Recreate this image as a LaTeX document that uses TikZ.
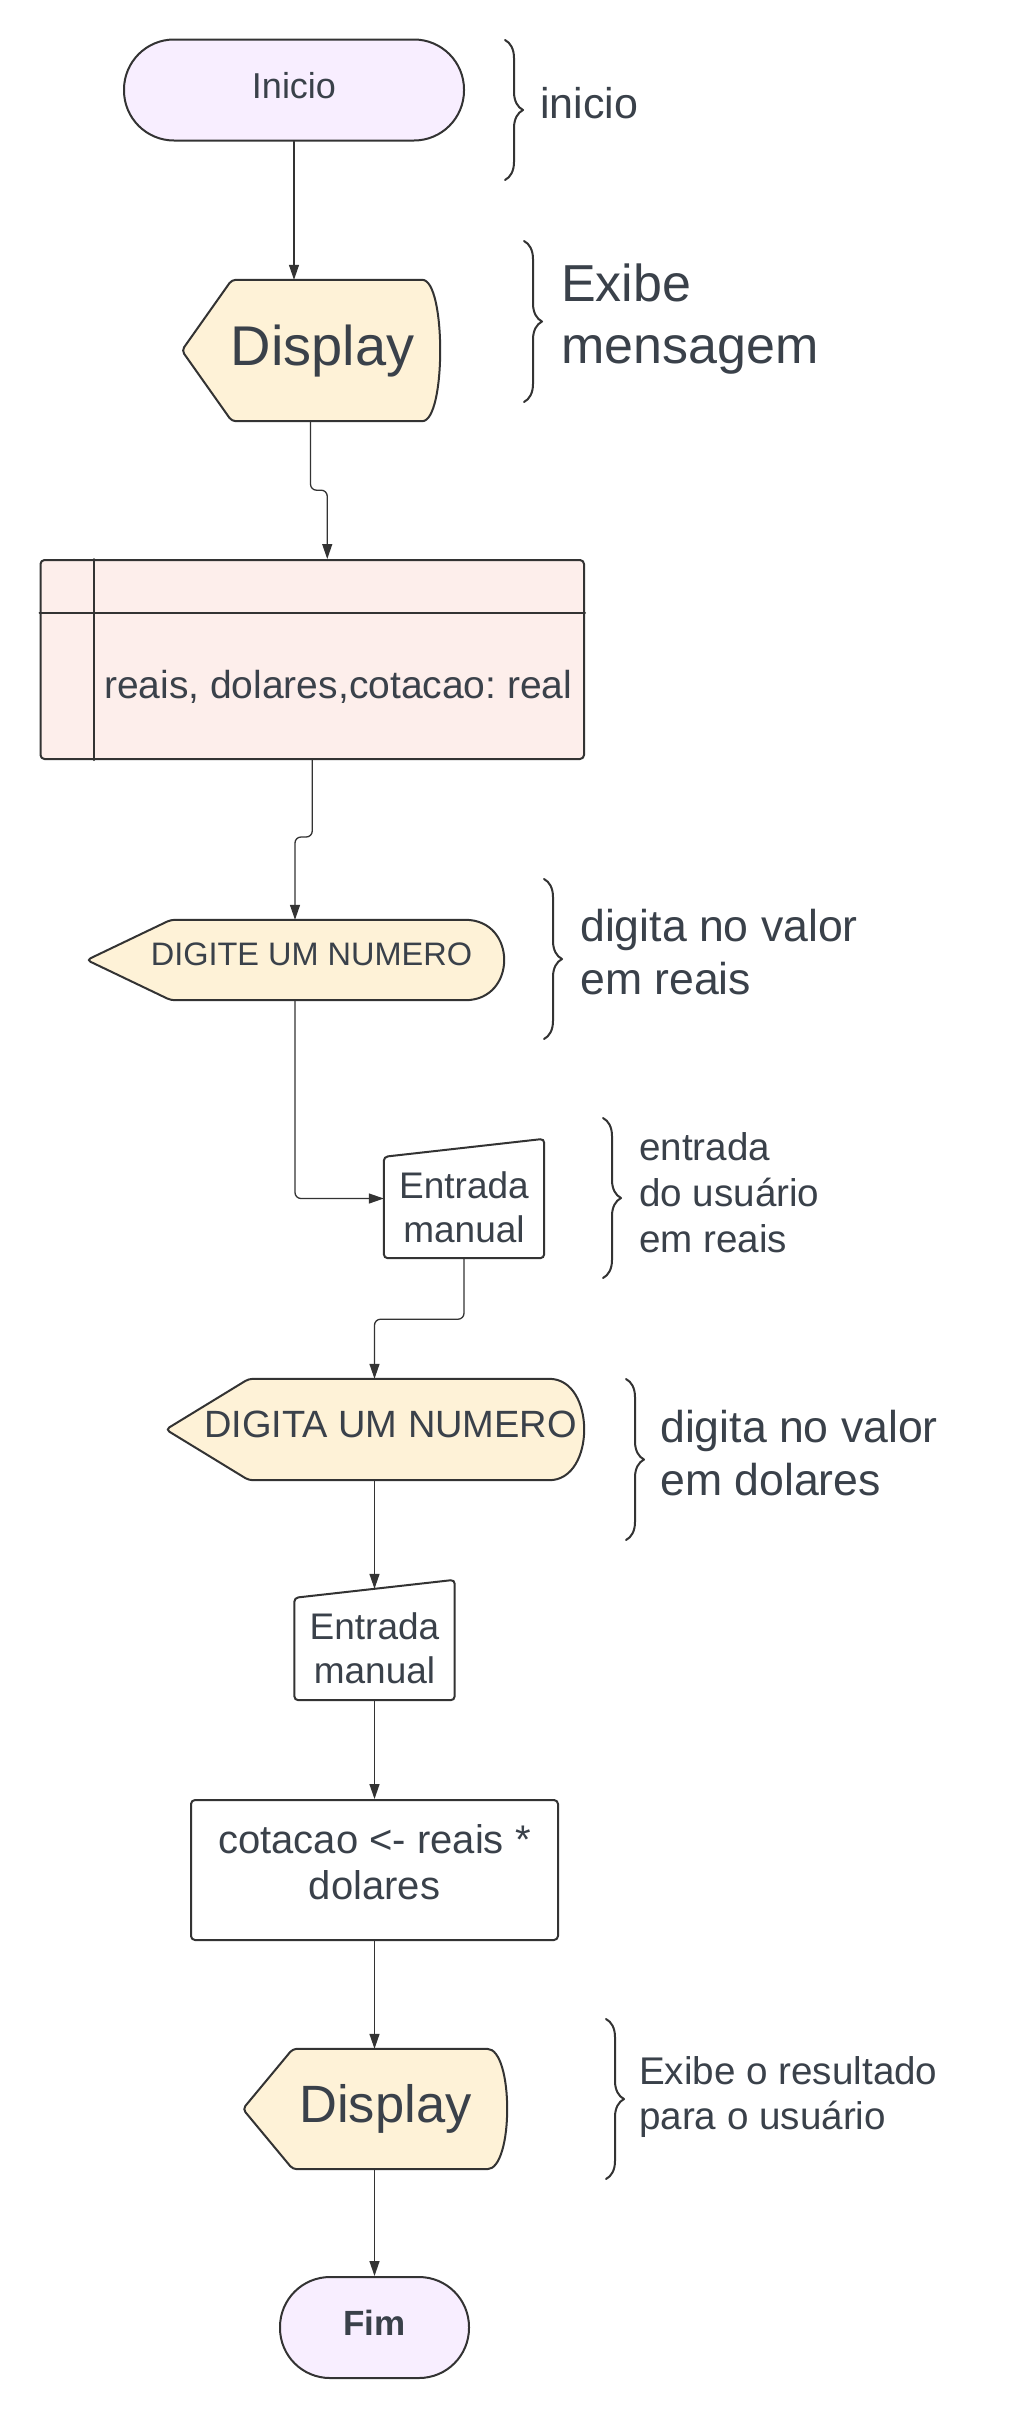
\documentclass[tikz,border=0pt]{standalone}
\usepackage{fontspec}
\setmainfont{Liberation Sans}
\frenchspacing
\usetikzlibrary{arrows.meta,decorations.pathreplacing,backgrounds}
\definecolor{inkgray}{HTML}{3A414A}
\definecolor{linegray}{HTML}{333333}
\definecolor{termfill}{HTML}{F8EEFF}
\definecolor{dispfill}{HTML}{FEF2D7}
\definecolor{declfill}{HTML}{FDEEEB}
\newcommand{\fsz}[2]{\fontsize{#1}{#2}\selectfont}
\newcommand{\dispshape}[3]{\path[dispdraw] (#1.west) -- ([xshift=#2pt]#1.north west) -- ([xshift=-#3pt]#1.north east)
  .. controls ([xshift=#3pt/3]#1.north east) and ([xshift=#3pt/3]#1.south east) .. ([xshift=-#3pt]#1.south east)
  -- ([xshift=#2pt]#1.south west) -- cycle;}
\newcommand{\manualshape}[1]{\path[manualdraw] ([yshift=-18pt]#1.north west) -- (#1.north east) -- (#1.south east) -- (#1.south west) -- cycle;}
\tikzset{
  term/.style={draw=linegray,line width=2pt,fill=termfill,rounded corners=50pt,minimum height=101pt,inner sep=0pt,text depth=10pt,text=inkgray,font=\fsz{36}{43}},
  disp/.style={inner sep=0pt,text depth=11pt,text=inkgray,execute at begin node={\hspace*{#1}}},
  dispdraw/.style={fill=dispfill,draw=linegray,line width=2pt,rounded corners=4pt},
  decl/.style={draw=linegray,line width=2pt,fill=declfill,rounded corners=4pt,minimum width=543.5pt,minimum height=199pt,inner sep=0pt,text height=80pt,text depth=3pt,text=inkgray,font=\fsz{39}{47},execute at begin node={\hspace*{52pt}}},
  tabline/.style={draw=linegray,line width=2pt},
  manual/.style={inner sep=0pt,align=center,text=inkgray,font=\fsz{37}{44}},
  manualdraw/.style={fill=white,draw=linegray,line width=2pt,rounded corners=4pt},
  proc/.style={draw=linegray,line width=2pt,rounded corners=4pt,minimum width=367pt,minimum height=140pt,inner sep=0pt,align=center,text=inkgray,font=\fsz{40}{46}},
  note/.style={anchor=north west,inner sep=0pt,align=left,text=inkgray},
  curly/.style={decorate,decoration={brace,amplitude=18pt},draw=linegray,line width=2pt},
  flow/.style={->,draw=linegray,line width=1.3pt,rounded corners=6pt}
}
\begin{document}
\begin{tikzpicture}[x=1pt,y=-1pt,line cap=round,line join=round,>={Triangle[length=15pt,width=10pt]}]
\useasboundingbox (0,0) rectangle (1024,2420);
\node[term,minimum width=340pt] (inicio) at (294,90) {Inicio};
\node[disp=24pt,minimum width=257pt,minimum height=141pt,font=\fsz{56}{67}] (disp1) at (310.5,350.5) {Display};
\node[decl] (decl) at (312.25,659.5) {reais, dolares,cotacao: real};
\node[disp=33pt,minimum width=416pt,minimum height=80pt,font=\fsz{32.5}{39}] (digite) at (295,960) {DIGITE UM NUMERO};
\node[manual,minimum width=160pt,minimum height=119pt] (entrada1) at (464,1198.5) {\rule{0pt}{44pt}Entrada\\manual};
\node[disp=32pt,minimum width=417pt,minimum height=101pt,font=\fsz{38}{46}] (digita) at (374.5,1429.5) {DIGITA UM NUMERO};
\node[manual,minimum width=160pt,minimum height=120pt] (entrada2) at (374.5,1640) {\rule{0pt}{44pt}Entrada\\manual};
\node[proc] (calc) at (374.5,1870) {cotacao <- reais *\\dolares\rule[-16pt]{0pt}{16pt}};
\node[disp=22pt,minimum width=263pt,minimum height=120pt,font=\fsz{52.5}{63}] (disp3) at (374.5,2109) {Display};
\node[term,minimum width=189pt,font=\fsz{35}{42}\bfseries] (fim) at (374.5,2327.5) {Fim};
\begin{scope}[on background layer]
\dispshape{disp1}{50}{21}
\dispshape{digite}{84}{42}
\dispshape{digita}{83}{38}
\dispshape{disp3}{50}{23}
\manualshape{entrada1}
\manualshape{entrada2}
\end{scope}
\draw[tabline] ([yshift=-54pt]decl.north west) -- ([yshift=-54pt]decl.north east);
\draw[tabline] ([xshift=54.5pt]decl.north west) -- ([xshift=54.5pt]decl.south west);
\node[note,anchor=base west,font=\fsz{43}{52}] (lbinicio) at (540,118) {inicio};
\node[note,font=\fsz{52}{62}] (lbexibe) at (561,264) {Exibe\\mensagem};
\node[note,font=\fsz{44.6}{53}] (lbreais) at (580,909) {digita no valor\\em reais};
\node[note,font=\fsz{38.6}{46}] (lbentrada) at (639,1132) {entrada\\do usuário\\em reais};
\node[note,font=\fsz{44.6}{53}] (lbdolar) at (660,1410) {digita no valor\\em dolares};
\node[note,font=\fsz{38.6}{45}] (lbresult) at (639,2056) {Exibe o resultado\\para o usuário};
\draw[curly] (505,40) -- (505,180);
\draw[curly] (524,241) -- (524,402);
\draw[curly] (544,879) -- (544,1039);
\draw[curly] (603,1118) -- (603,1278);
\draw[curly] (626,1379) -- (626,1540);
\draw[curly] (606,2019) -- (606,2179);
\draw[flow] (inicio.south) -- (inicio.south |- disp1.north);
\draw[flow] (disp1.south) -- ++(0,69) -| ([xshift=15pt]decl.north);
\draw[flow] (decl.south) -- ++(0,77) -| (digite.north);
\draw[flow] (digite.south) |- (entrada1.west);
\draw[flow] (entrada1.south) -- ++(0,61) -| (digita.north);
\draw[flow] (digita.south) -- ([yshift=-9pt]entrada2.north);
\draw[flow] (entrada2.south) -- (calc.north);
\draw[flow] (calc.south) -- (disp3.north);
\draw[flow] (disp3.south) -- (fim.north);
\end{tikzpicture}
\end{document}
